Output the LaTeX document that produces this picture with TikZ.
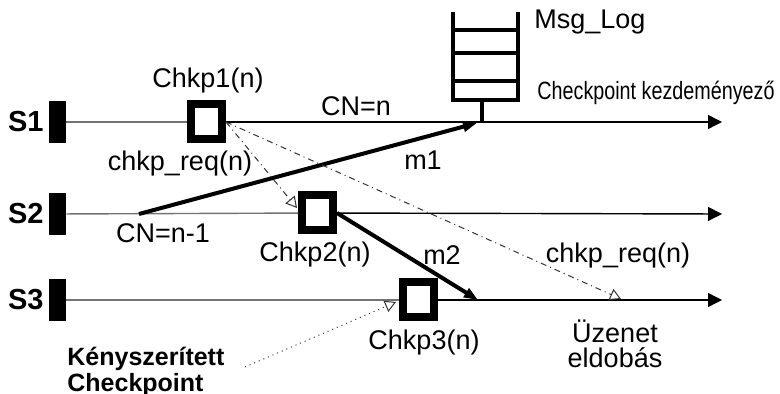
\documentclass[tikz,border=0pt]{standalone}
\usepackage{fontspec}
\usepackage{graphicx}
\setmainfont{Liberation Sans}
\usetikzlibrary{arrows.meta}
\tikzset{
  lbl/.style={font=\fontsize{13.5}{12.5}\selectfont, inner sep=0pt},
  blbl/.style={font=\bfseries\fontsize{14.5}{16}\selectfont, inner sep=0pt},
  bar/.style={fill=black, minimum width=8.5pt, minimum height=21pt, inner sep=0pt},
  chkbox/.style={draw, line width=4pt, fill=white, minimum width=15.5pt, minimum height=17.5pt, inner sep=0pt},
  life/.style={line width=0.7pt, -{Triangle[length=7pt,width=7pt]}},
  pre/.style={line width=0.7pt, black!55},
  msg/.style={line width=2pt, -{Triangle[length=7pt,width=5pt]}},
  req/.style={line width=0.5pt, black!80, dash dot, -{Triangle[open,length=5.5pt,width=6pt]}},
  queue/.style={line width=1.6pt},
}
\begin{document}
\begin{tikzpicture}[x=0.5pt,y=-0.5pt]
  \useasboundingbox (0,0) rectangle (780,394);
  % processes, bars, line ends
  \foreach \i/\y in {1/122,2/214,3/300} {
    \node[blbl,anchor=east] (s\i) at (44,\y) {S\i};
    \node[bar] (b\i) at (57.5,\y) {};
    \coordinate (e\i) at (722,\y);
  }
  % checkpoints
  \node[chkbox] (c1) at (206.5,122) {};
  \node[chkbox] (c2) at (317.5,213) {};
  \node[chkbox] (c3) at (418.5,300) {};
  % time lines
  \foreach \i in {1,2,3} {
    \draw[pre] (b\i) -- (c\i);
    \draw[life] (c\i) -- (e\i);
  }
  % message log
  \draw[queue] (453,12) -- (453,100) -- (518,100) -- (518,12);
  \draw[queue] (453,30) -- (518,30);
  \draw[queue] (453,53) -- (518,53);
  \draw[queue] (453,81) -- (518,81);
  \coordinate (qb) at (482,100);
  \coordinate (qs) at (482,122);
  \draw[queue] (qb) -- (qs);
  \node[lbl,anchor=west] (log) at (534,22) {Msg\_Log};
  \node[anchor=west,inner sep=0pt,font=\fontsize{12.5}{14}\selectfont] (init) at (537,93) {\scalebox{0.79}[1]{Checkpoint kezdeményező}};
  % messages m1, m2
  \coordinate (m1s) at (139,214);
  \coordinate (m1e) at (477,123);
  \draw[msg] (m1s) -- (m1e);
  \coordinate (m2e) at (478,300);
  \draw[msg] (c2.east) -- (m2e);
  % checkpoint requests
  \coordinate (r2) at (297,208);
  \coordinate (r3) at (621,299);
  \draw[req] (c1.east) -- (r2);
  \draw[req] (c1.east) -- (r3);
  \coordinate (fs) at (245,367);
  \coordinate (fe) at (396,302);
  \draw[req,dotted] (fs) -- (fe);
  % labels
  \node[lbl] (l1) at (208,81) {Chkp1(n)};
  \node[lbl] (l2) at (315,255) {Chkp2(n)};
  \node[lbl] (l3) at (424,343) {Chkp3(n)};
  \node[lbl] (cn) at (356,106) {CN=n};
  \node[lbl] (cn1) at (163,233) {CN=n-1};
  \node[lbl] (q1) at (180,164) {chkp\_req(n)};
  \node[lbl] (q2) at (618,256) {chkp\_req(n)};
  \node[lbl] (lm1) at (423,160) {m1};
  \node[lbl] (lm2) at (442,255) {m2};
  \node[lbl,align=center] (drop) at (615,344) {Üzenet\\eldobás};
  \node[anchor=west,align=left,inner sep=0pt,font=\bfseries\fontsize{12.5}{11}\selectfont] (forced) at (67,372) {Kényszerített\\Checkpoint};
\end{tikzpicture}
\end{document}
